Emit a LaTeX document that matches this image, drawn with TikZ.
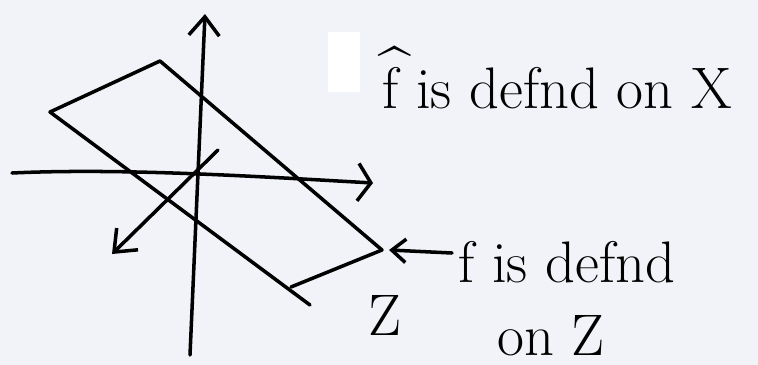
\documentclass[tikz,border=0pt]{standalone}
\usepackage{tikz}
\usetikzlibrary{arrows.meta,positioning}
\usepackage{amsmath}
\definecolor{paperGray}{RGB}{242,243,248}
\newcommand{\fhat}{\makebox[0pt][l]{\hspace{-0.06em}\raisebox{0.32em}{\^{}}}f}

\begin{document}
\begin{tikzpicture}[x=0.03cm,y=-0.03cm,
  pen/.style={line width=3pt,line cap=round,line join=round,black},
  axis/.style={pen,-{Straight Barb[length=16pt,width=26pt,line width=3pt]}},
  note/.style={font=\fontsize{50}{58}\selectfont,inner sep=0pt,anchor=base west}
]
  \fill[paperGray] (0,0) rectangle (758,365);
  \useasboundingbox (0,0) rectangle (758,365);
  \fill[white] (328,32) rectangle (360,92);

  % axes
  \coordinate (ybot) at (190,355);
  \coordinate (ytop) at (205,14);
  \coordinate (xleft) at (12,173);
  \coordinate (xright) at (373,183);
  \coordinate (zback) at (218,150);
  \coordinate (zfront) at (112,254);
  \draw[axis] (ybot) -- (ytop);
  \draw[pen,-{Straight Barb[length=11pt,width=32pt,line width=3pt]}]
      (xleft) .. controls (120,168) and (250,176) .. (xright);
  \draw[axis] (zback) -- (zfront);

  % plane Z
  \coordinate (pl) at (50,112);
  \coordinate (pt) at (160,61);
  \coordinate (pr) at (382,250);
  \coordinate (pb) at (291,287);
  \draw[pen] (pl) -- (pt);
  \draw[pen] (pt) -- (pr);
  \draw[pen] (pr) -- (pb);
  \draw[pen] (pl) -- (310,305);

  % labels
  \node[note](xlab) at (382,108) {\fhat{} is defnd on X};
  \node[note](zdef) at (458,282) {f is defnd};
  \node[note](onz)  at (497,355) {on Z};
  \node[note](zlab) at (368,335) {Z};
  \coordinate (tail) at (452,253);
  \draw[pen,-{Straight Barb[length=12pt,width=20pt,line width=3pt]}]
      (tail) -- ([xshift=6]pr);
\end{tikzpicture}
\end{document}
